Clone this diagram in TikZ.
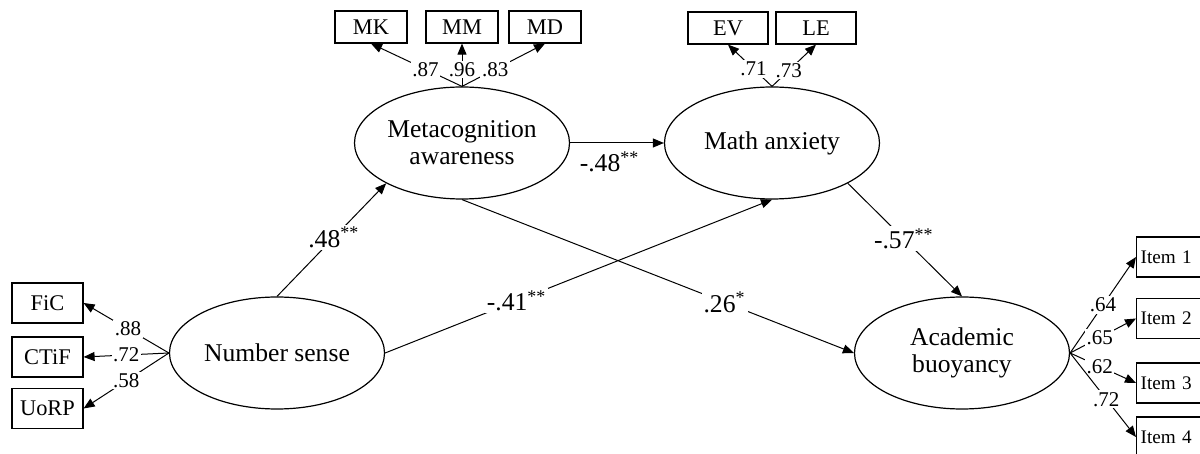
\documentclass[tikz,border=0pt]{standalone}
\usepackage{fontspec}
\setmainfont{Liberation Serif}
\usetikzlibrary{shapes,arrows.meta,positioning,calc}

\tikzset{
  latent/.style={ellipse, draw, line width=0.6pt, minimum width=107.5pt, minimum height=56pt,
    inner sep=0pt, align=center, font=\fontsize{12.8}{13.6}\selectfont},
  obs/.style={rectangle, draw, line width=0.6pt, minimum width=36pt, minimum height=16pt,
    inner sep=0pt, font=\fontsize{11.2}{13}\selectfont},
  ind/.style={-{Triangle[length=5.5pt,width=4.5pt]}, line width=0.5pt},
  load/.style={fill=white, inner sep=0.8pt, font=\fontsize{10.5}{12}\selectfont},
  coef/.style={fill=white, inner sep=1pt, font=\fontsize{12.8}{14}\selectfont},
}

\begin{document}
\begin{tikzpicture}[x=0.5pt, y=-0.5pt]
\useasboundingbox (0,0) rectangle (1200,454);
% latent variables
\node[latent] (mc) at (462,143) {Metacognition\\awareness};
\node[latent] (ma) at (772,143) {Math anxiety};
\node[latent] (ns) at (277,353) {Number sense};
\node[latent] (ab) at (962,353) {Academic\\buoyancy};

% indicators
\foreach \x/\name/\val in {371/MK/.87, 462/MM/.96, 545/MD/.83} {
    \node[obs] (\name) at (\x,27) {\name};
    \draw[ind] (mc.north) -- node[load, pos=0.4] {\val} (\name.south);
}
\foreach \x/\name/\val/\p in {728/EV/.71/0.42, 816/LE/.73/0.38} {
    \node[obs, minimum width=40pt] (\name) at (\x,28) {\name};
    \draw[ind] (ma.north) -- node[load, pos=\p] {\val} (\name.south);
}
\foreach \y/\name/\val/\p in {303/FiC/.88/0.48, 357/CTiF/.72/0.5, 408.5/UoRP/.58/0.5} {
    \node[obs, minimum width=35.5pt, minimum height=20pt] (\name) at (47.5,\y) {\name};
    \draw[ind] (ns.west) -- node[load, pos=\p] {\val} (\name.east);
}
\foreach \i/\y/\val/\p in {1/257/.64/0.5, 2/318.5/.65/0.45, 3/383/.62/0.45, 4/437/.72/0.55} {
    \node[obs, anchor=west, minimum height=20pt, inner xsep=2pt, text width=32pt, align=left,
        font=\fontsize{9.6}{11}\selectfont] (item\i) at (1136,\y) {Item \i};
    \draw[ind] (ab.east) -- node[load, pos=\p] {\val} (item\i.west);
}

% structural paths
\draw[ind] (ns.north) -- node[coef, pos=0.52] {.48\textsuperscript{**}} (mc.-152);
\draw[ind] (mc.east) -- node[below, pos=0.42, inner sep=4pt, font=\fontsize{12.8}{14}\selectfont]
    {-.48\textsuperscript{**}} (ma.west);
\draw[ind] (ns.east) -- node[coef, pos=0.34] {-.41\textsuperscript{**}} (ma.south);
\draw[ind] (mc.south) -- node[coef, pos=0.67] {.26\textsuperscript{*}} (ab.west);
\draw[ind] (ma.-28) -- node[coef, pos=0.49] {-.57\textsuperscript{**}} (ab.north);
\end{tikzpicture}
\end{document}
